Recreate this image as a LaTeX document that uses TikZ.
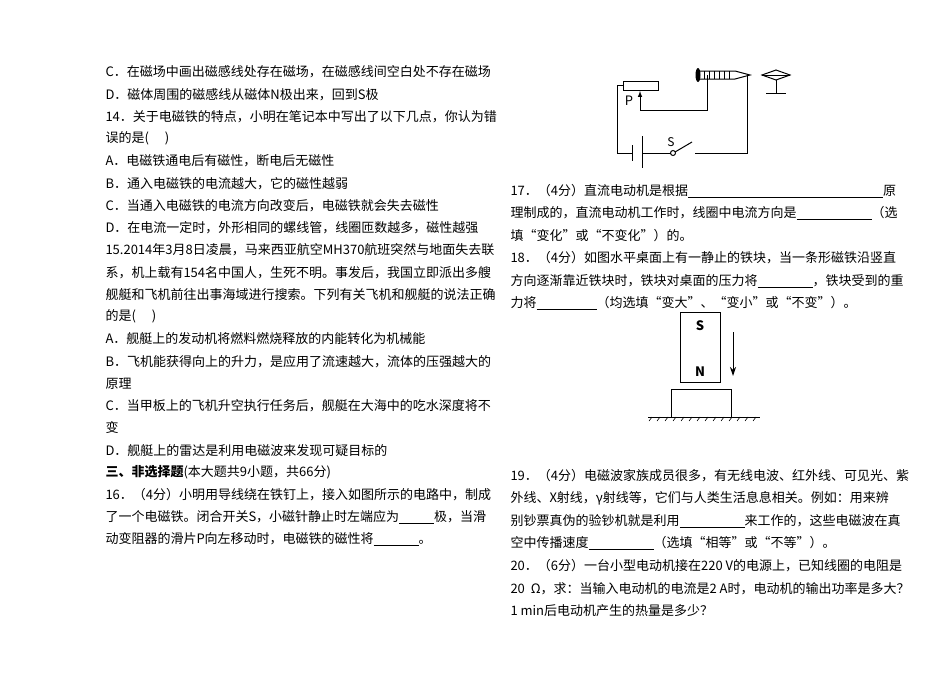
\documentclass[tikz,border=0pt]{standalone}
\usepackage{fontspec}
\usetikzlibrary{arrows.meta}
\setmainfont{Noto Sans CJK SC}
\begin{document}
\begin{tikzpicture}[x=1pt,y=-1pt,line width=1pt,
 txt/.style={anchor=west,inner sep=0pt,font=\fontsize{13}{16}\selectfont}]
\newcommand{\bl}[1]{\underline{\hspace{#1}}}
\useasboundingbox (0,0) rectangle (950,672);
\fill[white] (0,0) rectangle (950,672);
\foreach \t [count=\i from 0] in {
C．在磁场中画出磁感线处存在磁场，在磁感线间空白处不存在磁场,
D．磁体周围的磁感线从磁体N极出来，回到S极,
14．关于电磁铁的特点，小明在笔记本中写出了以下几点，你认为错,
误的是(\quad\ ),
A．电磁铁通电后有磁性，断电后无磁性,
B．通入电磁铁的电流越大，它的磁性越弱,
C．当通入电磁铁的电流方向改变后，电磁铁就会失去磁性,
D．在电流一定时，外形相同的螺线管，线圈匝数越多，磁性越强,
15.2014年3月8日凌晨，马来西亚航空MH370航班突然与地面失去联,
系，机上载有154名中国人，生死不明。事发后，我国立即派出多艘,
舰艇和飞机前往出事海域进行搜索。下列有关飞机和舰艇的说法正确,
的是(\quad\ ),
A．舰艇上的发动机将燃料燃烧释放的内能转化为机械能,
B．飞机能获得向上的升力，是应用了流速越大，流体的压强越大的,
原理,
C．当甲板上的飞机升空执行任务后，舰艇在大海中的吃水深度将不,
变,
D．舰艇上的雷达是利用电磁波来发现可疑目标的,
{\bfseries 三、非选择题}(本大题共9小题，共66分),
16．（4分）小明用导线绕在铁钉上，接入如图所示的电路中，制成,
了一个电磁铁。闭合开关S，小磁针静止时左端应为\bl{35pt}极，当滑,
动变阻器的滑片P向左移动时，电磁铁的磁性将\bl{45pt}。}
 \node[txt] (L\i) at (105,72+22.25*\i) {\t};
\foreach \t/\y [count=\i] in {
{17．（4分）直流电动机是根据\bl{195pt}原}/191,
{理制成的，直流电动机工作时，线圈中电流方向是\bl{75pt}（选}/213,
{填“变化”或“不变化”）的。}/236,
{18．（4分）如图水平桌面上有一静止的铁块，当一条形磁铁沿竖直}/258,
{方向逐渐靠近铁块时，铁块对桌面的压力将\bl{55pt}，铁块受到的重}/281,
{力将\bl{60pt}（均选填“变大”、“变小”或“不变”）。}/303,
{19．（4分）电磁波家族成员很多，有无线电波、红外线、可见光、紫}/476,
{外线、X射线，γ射线等，它们与人类生活息息相关。例如：用来辨}/498,
{别钞票真伪的验钞机就是利用\bl{65pt}来工作的，这些电磁波在真}/521,
{空中传播速度\bl{65pt}（选填“相等”或“不等”）。}/543,
{20．（6分）一台小型电动机接在220 V的电源上，已知线圈的电阻是}/566,
{20\ \ Ω，求：当输入电动机的电流是2 A时，电动机的输出功率是多大？}/589,
{1 min后电动机产生的热量是多少？}/611}
 \node[txt] (R\i) at (510,\y) {\t};
% circuit
\draw (623,81) rectangle (658,90);
\node[font=\itshape\fontsize{13}{13}\selectfont] (P) at (629,101) {P};
\coordinate (pa) at (640,110);
\draw[-latex] (pa) -- (640,91);
\draw (pa) -- (707,110) -- (707,75);
\fill (698,75) ellipse (2.5 and 7);
\draw (700,71) -- (735,71) -- (750,75) -- (735,79) -- (700,79);
\foreach \x in {704,709,...,730} \draw[line width=0.6pt] (\x,71) -- (\x,79);
\draw (747,75) -- (747,153) -- (695,153);
\draw (673,153) circle (2.5);
\draw (675,152) -- (692,142);
\node[font=\fontsize{12}{12}\selectfont] (S) at (671,142) {S};
\draw (670.5,153) -- (642,153);
\draw (642,136) -- (642,168);
\draw (632,145) -- (632,161);
\draw (632,153) -- (617,153) -- (617,85) -- (623,85);
\draw (762,75) -- (776,70) -- (790,75) -- (776,80) -- cycle;
\draw (762,75) -- (790,75);
\draw (776,80) -- (776,93);
\draw (766,93) -- (786,93);
% magnet
\draw (680,312) rectangle (720,382);
\node[font=\bfseries\fontsize{13}{13}\selectfont] (Sm) at (700,326) {S};
\node[font=\bfseries\fontsize{13}{13}\selectfont] (Nm) at (700,372) {N};
\draw[-{Stealth[length=9pt,width=6pt]}] (733,332) -- (733,376);
\draw (671,417) -- (671,389) -- (731,389) -- (731,417);
\draw (648,417) -- (760,417);
\foreach \x in {652,660,...,756} \draw[line width=0.6pt] (\x,417) -- (\x-3,421);
\end{tikzpicture}
\end{document}
